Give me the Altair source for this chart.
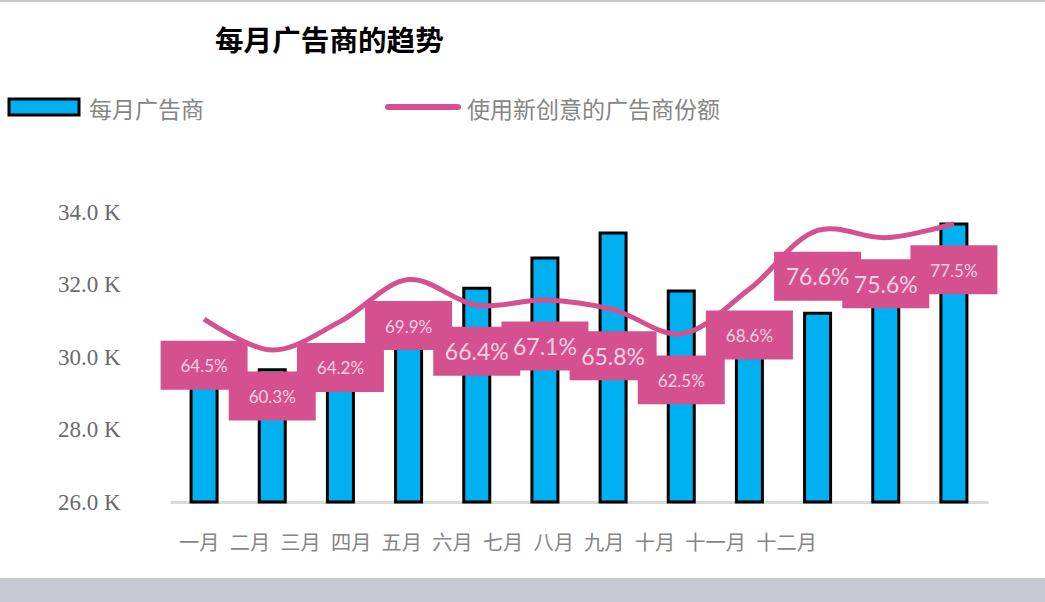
import altair as alt
import pandas as pd

# ---- data ----
months = ["一月", "二月", "三月", "四月", "五月", "六月", "七月", "八月", "九月", "十月", "十一月", "十二月"]
advertisers = [29700, 29650, 29900, 30600, 31900, 32730, 33420, 31820, 30900, 31210, 32400, 33670]
new_creative_share = [64.5, 60.3, 64.2, 69.9, 66.4, 67.1, 65.8, 62.5, 68.6, 76.6, 75.6, 77.5]
share_labels = ["64.5%", "60.3%", "64.2%", "69.9%", "66.4%", "67.1%", "65.8%", "62.5%", "68.6%", "76.6%", "75.6%", "77.5%"]
y_ticks = [26000, 28000, 30000, 32000, 34000]

title_text = "每月广告商的趋势"
legend_bar = "每月广告商"
legend_line = "使用新创意的广告商份额"

# style: which labels are drawn larger in the original
large_label_months = ["五月", "六月", "七月", "十月", "十一月"]

PINK = "#D5508F"
BLUE = "#00B0F0"
GRAY_TXT = "#858585"
CJK = "Noto Sans CJK SC"

df = pd.DataFrame({
    "month": months,
    "advertisers": advertisers,
    "share": new_creative_share,
    "label": share_labels,
})

x_enc = alt.X("month:N", sort=months, title=None,
              scale=alt.Scale(paddingInner=0, paddingOuter=0),
              axis=alt.Axis(labels=False, ticks=False, domainColor="#D9D9D9",
                            domainWidth=3, grid=False))

share_scale = alt.Scale(domain=[39.6, 79.1], nice=False, zero=False)

bars = alt.Chart(df).mark_bar(size=26, color=BLUE, stroke="black", strokeWidth=3).encode(
    x=x_enc,
    y=alt.Y("advertisers:Q", title=None,
            scale=alt.Scale(domain=[26000, 34000], nice=False, zero=False),
            axis=alt.Axis(values=y_ticks, grid=False, ticks=False, tickSize=0, domain=False,
                          labelPadding=50, labelFont="Liberation Serif", labelFontSize=23,
                          labelColor="#6A6A6A",
                          labelExpr="format(datum.value/1000, '.1f') + ' K'")),
    y2=alt.datum(26000),
)

line = alt.Chart(df).mark_line(color=PINK, strokeWidth=5, interpolate="catmull-rom").encode(
    x=alt.X("month:N", sort=months),
    y=alt.Y("share:Q", scale=share_scale, axis=None),
)

box_path = "M-1,-0.563 L1,-0.563 L1,0.563 L-1,0.563 Z"
boxes = alt.Chart(df).mark_point(shape=box_path, size=87 * 87, filled=True, opacity=1,
                                 color=PINK, strokeWidth=0, yOffset=46).encode(
    x=alt.X("month:N", sort=months),
    y=alt.Y("share:Q", scale=share_scale, axis=None),
)

labels = alt.Chart(df).mark_text(font="Lato", color="#F7D2E3", yOffset=48,
                                 baseline="middle", align="center").encode(
    x=alt.X("month:N", sort=months),
    y=alt.Y("share:Q", scale=share_scale, axis=None),
    text="label:N",
    size=alt.condition(alt.FieldOneOfPredicate(field="month", oneOf=large_label_months),
                       alt.value(23), alt.value(17)),
)

one = pd.DataFrame({"k": [0]})

month_row = alt.Chart(one).mark_text(font=CJK, fontSize=20.25, color=GRAY_TXT, align="left",
                                     baseline="middle").encode(
    x=alt.value(9), y=alt.value(332), text=alt.value("\u2002".join(months)))

title = alt.Chart(one).mark_text(font=CJK, fontSize=28.6, fontWeight="bold", color="black",
                                 align="left", baseline="middle").encode(
    x=alt.value(45), y=alt.value(-170), text=alt.value(title_text))

leg_rect = alt.Chart(one).mark_rect(color=BLUE, stroke="black", strokeWidth=3).encode(
    x=alt.value(-161), x2=alt.value(-91), y=alt.value(-113), y2=alt.value(-97))
leg_txt1 = alt.Chart(one).mark_text(font=CJK, fontSize=23, color=GRAY_TXT, align="left",
                                    baseline="middle").encode(
    x=alt.value(-81), y=alt.value(-101), text=alt.value(legend_bar))
leg_line = alt.Chart(one).mark_rule(color=PINK, strokeWidth=6, strokeCap="round").encode(
    x=alt.value(218), x2=alt.value(288), y=alt.value(-105))
leg_txt2 = alt.Chart(one).mark_text(font=CJK, fontSize=23, color=GRAY_TXT, align="left",
                                    baseline="middle").encode(
    x=alt.value(297), y=alt.value(-101), text=alt.value(legend_line))

band = alt.Chart(one).mark_rect(color="#C9C9D3").encode(
    x=alt.value(-170), x2=alt.value(875), y=alt.value(366), y2=alt.value(390))
top_line = alt.Chart(one).mark_rect(color="#C8C8C8").encode(
    x=alt.value(-170), x2=alt.value(875), y=alt.value(-212), y2=alt.value(-210))

chart = alt.layer(
    band, top_line, bars, line, boxes, labels,
    month_row, title, leg_rect, leg_txt1, leg_line, leg_txt2,
).resolve_scale(y="independent").properties(
    width=818, height=290,
    autosize=alt.AutoSizeParams(type="none"),
    padding={"left": 170, "top": 212, "right": 57, "bottom": 100},
    background="white",
).configure_view(stroke=None)

chart.save("out.html", embed_options={"renderer": "svg", "actions": False})
